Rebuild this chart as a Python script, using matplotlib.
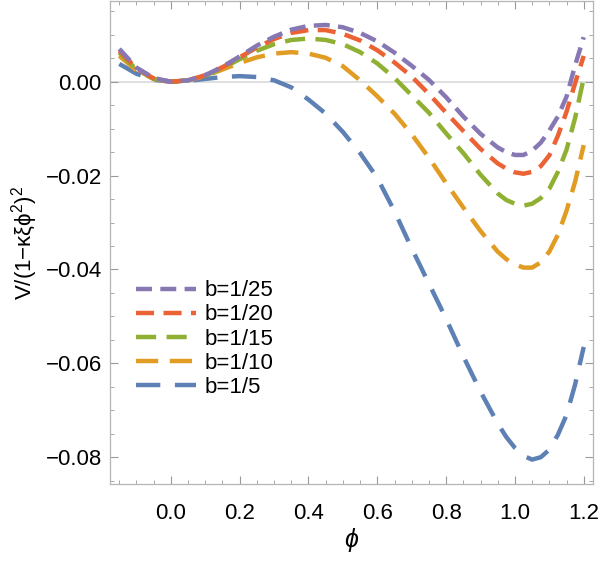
import matplotlib
matplotlib.use("Agg")
import matplotlib.pyplot as plt
from matplotlib.ticker import MultipleLocator, FuncFormatter

plt.rcParams['font.family'] = ['Liberation Sans', 'DejaVu Sans']
plt.rcParams['mathtext.fontset'] = 'custom'
plt.rcParams['mathtext.rm'] = 'Liberation Sans'
plt.rcParams['mathtext.it'] = 'Liberation Sans:italic'
plt.rcParams['lines.scale_dashes'] = False

# values
phi = [-0.15, -0.10, -0.05, 0.00, 0.05, 0.10, 0.15, 0.20, 0.25, 0.30,
       0.35, 0.40, 0.45, 0.50, 0.55, 0.60, 0.65, 0.70, 0.75, 0.80,
       0.85, 0.90, 0.95, 0.975, 1.00, 1.025, 1.05, 1.075, 1.10, 1.125,
       1.15, 1.175, 1.20]

v_b25 = [0.0070, 0.0030, 0.0008, 0.0000, 0.0003, 0.0014, 0.0032, 0.0054, 0.0077, 0.0096,
         0.0111, 0.0119, 0.0121, 0.0116, 0.0104, 0.0086, 0.0062, 0.0034, 0.0004, -0.0033,
         -0.0074, -0.0111, -0.0140, -0.0150, -0.0156, -0.0156, -0.0147, -0.0130, -0.0104, -0.0074,
         -0.0032, 0.0035, 0.0095]
v_b20 = [0.0066, 0.0028, 0.0007, 0.0000, 0.0003, 0.0014, 0.0031, 0.0052, 0.0073, 0.0091,
         0.0104, 0.0110, 0.0110, 0.0102, 0.0088, 0.0067, 0.0041, 0.0011, -0.0026, -0.0066,
         -0.0105, -0.0143, -0.0174, -0.0185, -0.0193, -0.0196, -0.0192, -0.0180, -0.0157, -0.0115,
         -0.0064, -0.0003, 0.0055]
v_b15 = [0.0062, 0.0026, 0.0006, 0.0000, 0.0003, 0.0013, 0.0029, 0.0048, 0.0066, 0.0080,
         0.0089, 0.0092, 0.0089, 0.0080, 0.0063, 0.0039, 0.0008, -0.0029, -0.0066, -0.0110,
         -0.0152, -0.0198, -0.0238, -0.0252, -0.0260, -0.0264, -0.0260, -0.0248, -0.0228, -0.0192,
         -0.0145, -0.0077, 0.0008]
v_b10 = [0.0055, 0.0024, 0.0006, 0.0000, 0.0003, 0.0012, 0.0026, 0.0040, 0.0052, 0.0060,
         0.0063, 0.0060, 0.0051, 0.0033, 0.0003, -0.0031, -0.0068, -0.0112, -0.0162, -0.0216,
         -0.0268, -0.0318, -0.0362, -0.0378, -0.0389, -0.0396, -0.0396, -0.0385, -0.0362, -0.0326,
         -0.0275, -0.0213, -0.0135]
v_b5 = [0.0038, 0.0017, 0.0004, 0.0000, 0.0002, 0.0006, 0.0010, 0.0012, 0.0010, 0.0003,
        -0.0012, -0.0038, -0.0068, -0.0107, -0.0152, -0.0205, -0.0276, -0.0355, -0.0430, -0.0505,
        -0.0585, -0.0660, -0.0728, -0.0757, -0.0780, -0.0797, -0.0805, -0.0800, -0.0784, -0.0752,
        -0.0710, -0.0645, -0.0565]

labels = ['b=1/25', 'b=1/20', 'b=1/15', 'b=1/10', 'b=1/5']
series = [v_b25, v_b20, v_b15, v_b10, v_b5]
colors = ['#8778B3', '#EB6235', '#8FB032', '#E19C24', '#5E81B5']
dashes = [(11.5, 6.0), (13.0, 6.8), (14.5, 7.5), (16.0, 8.3), (17.5, 10.5)]

fig = plt.figure(figsize=(6.0, 5.63), dpi=100)
ax = fig.add_axes([110/600, 79/563, 483/600, 483/563])

ax.axhline(0, color='#d9d9d9', lw=1.2, zorder=1)
# draw blue first so the others sit on top
for lab, v, c, d in reversed(list(zip(labels, series, colors, dashes))):
    ax.plot(phi, v, color=c, lw=3.2, dashes=d, label=lab,
            dash_capstyle='butt', dash_joinstyle='round', zorder=2)

ax.set_xlim(-0.177, 1.227)
ax.set_ylim(-0.0857, 0.0172)

ax.xaxis.set_major_locator(MultipleLocator(0.2))
ax.xaxis.set_minor_locator(MultipleLocator(0.05))
ax.yaxis.set_major_locator(MultipleLocator(0.02))
ax.yaxis.set_minor_locator(MultipleLocator(0.005))
ax.xaxis.set_major_formatter(FuncFormatter(lambda x, p: f'{x:.1f}'.replace('-', '\u2212')))
ax.yaxis.set_major_formatter(FuncFormatter(lambda y, p: f'{y:.2f}'.replace('-', '\u2212')))

ax.tick_params(which='both', direction='in', top=True, right=True, color='#999999',
               labelsize=16, labelcolor='black')
ax.tick_params(which='major', length=6, width=0.8)
ax.tick_params(which='minor', length=3, width=0.6)
ax.tick_params(axis='x', pad=14)
ax.tick_params(axis='y', pad=6)
for s in ax.spines.values():
    s.set_color('#b5b5b5')
    s.set_linewidth(0.9)

ax.set_xlabel('$\\phi$', fontsize=18, labelpad=1)
ax.set_ylabel('V/(1\u2212\u03ba\u03be\u03d5$^2$)$^2$', fontsize=16)
ax.yaxis.set_label_coords(-0.145, 0.5)

h, l = ax.get_legend_handles_labels()
ax.legend(h[::-1], l[::-1], loc='center left', bbox_to_anchor=(0.054, 0.30),
          frameon=False, fontsize=16, handlelength=2.7, handletextpad=0.36,
          labelspacing=0.14, borderpad=0, borderaxespad=0)

fig.savefig('out.png', dpi=100)
